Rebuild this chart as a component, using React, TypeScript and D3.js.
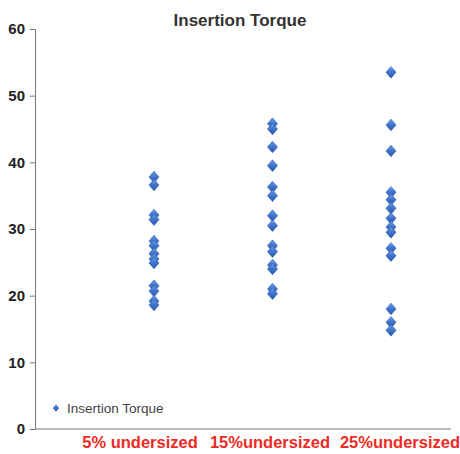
import * as d3 from "d3";
import { useEffect, useRef } from "react";

const categories = ["5% undersized", "15%undersized", "25%undersized"];
const seriesName = "Insertion Torque";
const torque5 = [37.8, 36.6, 32.1, 31.4, 28.2, 27.5, 26.3, 25.5, 24.9, 21.5, 20.7, 19.2, 18.6];
const torque15 = [45.8, 45.0, 42.3, 39.5, 36.3, 35.0, 32.0, 30.5, 27.5, 26.6, 24.6, 24.0, 21.0, 20.3];
const torque25 = [53.5, 45.6, 41.7, 35.5, 34.4, 33.1, 31.6, 30.3, 29.5, 27.1, 26.0, 18.0, 16.0, 14.8];
const yTicks = [0, 10, 20, 30, 40, 50, 60];

const W = 460;
const H = 454;
const font = "'Liberation Sans', Arial, sans-serif";

export default function App() {
  const svgRef = useRef<SVGSVGElement | null>(null);

  useEffect(() => {
    const svg = d3.select(svgRef.current);
    svg.selectAll("*").remove();

    const left = 35, right = 451, top = 29, bottom = 429;
    const y = d3.scaleLinear().domain([0, 60]).range([bottom, top]);
    const x = d3.scalePoint<string>().domain(categories).range([154, 391]);
    // labels sit a little wider apart than the points in the original
    const xLabel = d3.scalePoint<string>().domain(categories).range([140, 400]);

    const defs = svg.append("defs");
    const grad = defs.append("linearGradient").attr("id", "dia").attr("x1", 0).attr("y1", 0).attr("x2", 0).attr("y2", 1);
    grad.append("stop").attr("offset", "0%").attr("stop-color", "#6e9ce6");
    grad.append("stop").attr("offset", "50%").attr("stop-color", "#3f73cc");
    grad.append("stop").attr("offset", "100%").attr("stop-color", "#2a58a8");

    // title
    svg.append("text")
      .attr("x", 240).attr("y", 26)
      .attr("text-anchor", "middle")
      .style("font-family", font).style("font-weight", "bold").style("font-size", "17px")
      .attr("fill", "#333")
      .text(seriesName);

    // y axis
    const yAxis = svg.append("g").attr("transform", `translate(${left},0)`)
      .call(d3.axisLeft(y).tickValues(yTicks).tickSize(5).tickPadding(5).tickSizeOuter(0));
    yAxis.select(".domain").attr("stroke", "#777");
    yAxis.selectAll(".tick line").attr("stroke", "#777");
    yAxis.selectAll(".tick text")
      .style("font-family", font).style("font-weight", "bold").style("font-size", "15px")
      .attr("fill", "#222");

    // x axis line
    svg.append("line").attr("x1", left).attr("x2", right).attr("y1", bottom).attr("y2", bottom)
      .attr("stroke", "#777");

    // category labels
    svg.append("g").selectAll("text").data(categories).join("text")
      .attr("x", (d) => xLabel(d) ?? 0)
      .attr("y", 448)
      .attr("text-anchor", "middle")
      .style("font-family", font).style("font-weight", "bold").style("font-size", "16.5px")
      .attr("fill", "#ee2a24")
      .text((d) => d);

    const sym = d3.symbol(d3.symbolDiamond2, 66)();
    const pts = [torque5, torque15, torque25].flatMap((vals, i) => vals.map((v) => ({ c: categories[i], v })));
    svg.append("g").selectAll("path").data(pts).join("path")
      .attr("d", sym)
      .attr("transform", (d) => `translate(${x(d.c)},${y(d.v)}) scale(1,1.15)`)
      .attr("fill", "url(#dia)")
      .attr("stroke", "#2c5aa8").attr("stroke-width", 0.5);

    // legend
    svg.append("path").attr("d", d3.symbol(d3.symbolDiamond2, 26)())
      .attr("transform", "translate(56,408) scale(1,1.15)")
      .attr("fill", "url(#dia)");
    svg.append("text").attr("x", 67).attr("y", 413)
      .style("font-family", font).style("font-size", "13.5px")
      .attr("fill", "#444")
      .text(seriesName);
  }, []);

  return (
    <div style={{ position: "absolute", left: 0, top: 0, background: "#fff" }}>
      <svg ref={svgRef} width={W} height={H}></svg>
    </div>
  );
}
